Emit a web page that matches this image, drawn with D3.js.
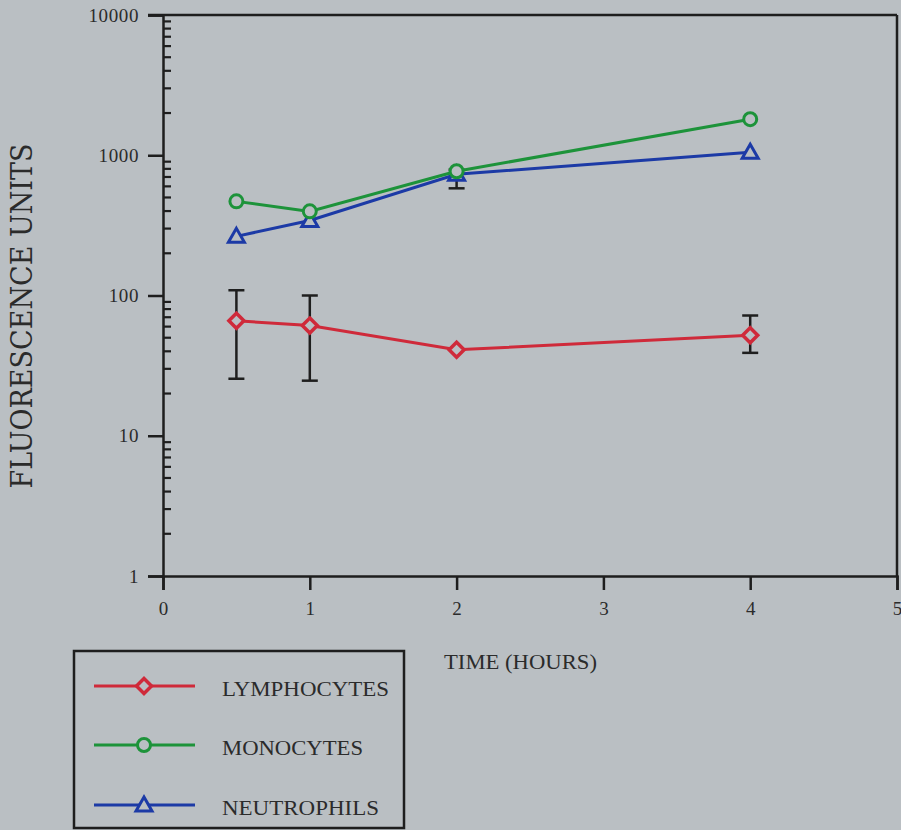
<!DOCTYPE html>
<html>
<head>
<meta charset="utf-8">
<script src="https://cdn.jsdelivr.net/npm/d3@7"></script>
<style>
  html, body { margin: 0; padding: 0; background: #babfc3; }
  svg { display: block; }
</style>
</head>
<body>
<svg id="chart" width="901" height="830"></svg>
<script>
// Sampling times (hours)
const times = [0.5, 1, 2, 4];

// Mean fluorescence per cell type
const lymphocytes = [66, 61, 41, 52];
const monocytes   = [469, 398, 769, 1808];
const neutrophils = [264, 343, 731, 1050];

// Error bar extents (low / high), null where none is drawn
const lymphLow  = [25.5, 24.7, null, 39];
const lymphHigh = [109, 100, null, 72];
const neutLow   = [null, null, 581, null];
const neutHigh  = [null, null, 790, null];

const seriesNames = ["LYMPHOCYTES", "MONOCYTES", "NEUTROPHILS"];
const seriesColors = ["#cf2a3a", "#1d933a", "#1c3aa6"];
const seriesSymbols = ["diamond", "circle", "triangle"];

const xTicks = [0, 1, 2, 3, 4, 5];
const yTicks = [1, 10, 100, 1000, 10000];

const svg = d3.select("#chart");
const bg = "#babfc3";
const ink = "#1e1e1e";
const textInk = "#2b2b2b";
const serif = "Liberation Serif, serif";

const plotLeft = 163, plotRight = 897, plotTop = 15, plotBottom = 576;

const x = d3.scaleLinear().domain([0, 5]).range([plotLeft, plotRight]);
const y = d3.scaleLog().domain([1, 10000]).range([plotBottom, plotTop]);

// Frame: top and right edges
svg.append("line").attr("x1", 148).attr("x2", plotRight).attr("y1", plotTop).attr("y2", plotTop)
  .attr("stroke", ink).attr("stroke-width", 2.5);
svg.append("line").attr("x1", plotRight).attr("x2", plotRight).attr("y1", plotTop).attr("y2", plotBottom)
  .attr("stroke", ink).attr("stroke-width", 2.5);

// Y axis: major ticks outward, minor ticks inward
const yAxis = svg.append("g").attr("transform", `translate(${plotLeft},0)`)
  .call(d3.axisLeft(y).tickValues(yTicks).tickFormat(d3.format("d")).tickSize(15).tickPadding(9));
yAxis.select(".domain").attr("stroke", ink).attr("stroke-width", 2.5);
yAxis.selectAll(".tick line").attr("stroke", ink).attr("stroke-width", 2.5);
yAxis.selectAll(".tick text").attr("font-family", serif)
  .attr("font-size", 19).attr("letter-spacing", 0.6).attr("fill", textInk);

const minor = [];
for (let dec = 1; dec < 10000; dec *= 10) {
  for (let m = 2; m <= 9; m++) minor.push(dec * m);
}
svg.append("g").selectAll("line").data(minor).join("line")
  .attr("x1", plotLeft).attr("x2", plotLeft + 8)
  .attr("y1", d => y(d)).attr("y2", d => y(d))
  .attr("stroke", ink).attr("stroke-width", 2.2);

// X axis
const xAxis = svg.append("g").attr("transform", `translate(0,${plotBottom})`)
  .call(d3.axisBottom(x).tickValues(xTicks).tickFormat(d3.format("d")).tickSize(14).tickPadding(12));
xAxis.select(".domain").attr("stroke", ink).attr("stroke-width", 2.5);
xAxis.selectAll(".tick line").attr("stroke", ink).attr("stroke-width", 2.5);
xAxis.selectAll(".tick text").attr("font-family", serif)
  .attr("font-size", 19).attr("fill", textInk);

// Axis titles
svg.append("text")
  .attr("transform", "translate(32,316) rotate(-90)")
  .attr("text-anchor", "middle")
  .attr("font-family", "DejaVu Serif, serif")
  .attr("font-size", 29)
  .attr("textLength", 345)
  .attr("lengthAdjust", "spacingAndGlyphs")
  .attr("fill", textInk)
  .text("FLUORESCENCE UNITS");

svg.append("text")
  .attr("x", 444).attr("y", 669)
  .attr("font-family", serif)
  .attr("font-size", 21)
  .attr("textLength", 153)
  .attr("lengthAdjust", "spacingAndGlyphs")
  .attr("fill", textInk)
  .text("TIME (HOURS)");

// Error bars
function errorBars(lows, highs) {
  const g = svg.append("g").attr("stroke", ink).attr("stroke-width", 2.5);
  times.forEach((t, i) => {
    if (lows[i] == null) return;
    const cx = x(t);
    g.append("line").attr("x1", cx).attr("x2", cx).attr("y1", y(lows[i])).attr("y2", y(highs[i]));
    [lows[i], highs[i]].forEach(v => {
      g.append("line").attr("x1", cx - 8).attr("x2", cx + 8).attr("y1", y(v)).attr("y2", y(v));
    });
  });
}
errorBars(neutLow, neutHigh);
errorBars(lymphLow, lymphHigh);

// Marker drawing
function marker(g, kind, cx, cy, color) {
  if (kind === "circle") {
    g.append("circle").attr("cx", cx).attr("cy", cy).attr("r", 6.5)
      .attr("fill", bg).attr("stroke", color).attr("stroke-width", 3);
  } else if (kind === "diamond") {
    const s = 7.5;
    g.append("path").attr("d", `M${cx},${cy - s}L${cx + s},${cy}L${cx},${cy + s}L${cx - s},${cy}Z`)
      .attr("fill", bg).attr("stroke", color).attr("stroke-width", 3.5);
  } else {
    const s = 8;
    g.append("path").attr("d", `M${cx},${cy - s}L${cx + s},${cy + s * 0.75}L${cx - s},${cy + s * 0.75}Z`)
      .attr("fill", bg).attr("stroke", color).attr("stroke-width", 3);
  }
}

const allSeries = [lymphocytes, monocytes, neutrophils];
const line = d3.line().x((d, i) => x(times[i])).y(d => y(d));

// Draw in order: neutrophils, lymphocytes, monocytes on top
[2, 0, 1].forEach(k => {
  const g = svg.append("g");
  g.append("path").datum(allSeries[k]).attr("d", line)
    .attr("fill", "none").attr("stroke", seriesColors[k]).attr("stroke-width", 3);
  allSeries[k].forEach((v, i) => marker(g, seriesSymbols[k], x(times[i]), y(v), seriesColors[k]));
});

// Legend
const legend = svg.append("g");
legend.append("rect").attr("x", 74).attr("y", 651).attr("width", 330).attr("height", 177)
  .attr("fill", "none").attr("stroke", ink).attr("stroke-width", 2.5);
const rowY = [686, 745, 805];
seriesNames.forEach((name, k) => {
  const ry = rowY[k];
  legend.append("line").attr("x1", 94).attr("x2", 195).attr("y1", ry).attr("y2", ry)
    .attr("stroke", seriesColors[k]).attr("stroke-width", 3);
  marker(legend, seriesSymbols[k], 144, ry, seriesColors[k]);
  legend.append("text").attr("x", 222).attr("y", ry + 10)
    .attr("font-family", serif).attr("font-size", 22)
    .attr("textLength", [167, 141, 157][k]).attr("lengthAdjust", "spacingAndGlyphs")
    .attr("fill", textInk).text(name);
});
</script>
</body>
</html>
